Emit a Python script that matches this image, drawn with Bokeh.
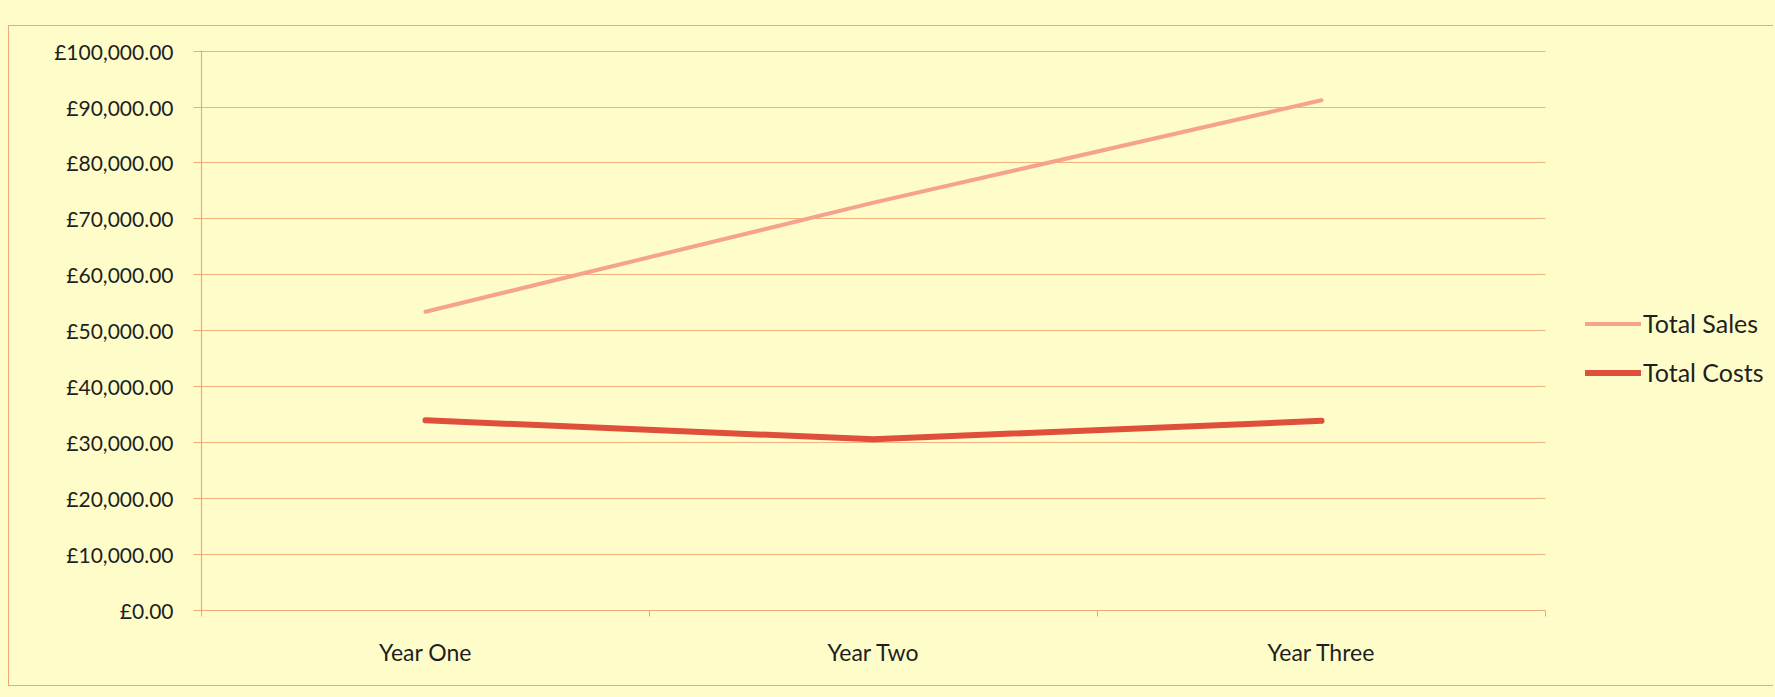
from bokeh.plotting import figure
from bokeh.layouts import column
from bokeh.models import FixedTicker, Legend, LegendItem, Range1d
from bokeh.embed import file_html
from bokeh.resources import INLINE

# ---- data ----
categories = ["Year One", "Year Two", "Year Three"]
total_sales = [53400, 72900, 91200]
total_costs = [34000, 30600, 33900]
y_ticks = [0, 10000, 20000, 30000, 40000, 50000, 60000, 70000, 80000, 90000, 100000]
y_tick_labels = ["£0.00", "£10,000.00", "£20,000.00", "£30,000.00", "£40,000.00",
                 "£50,000.00", "£60,000.00", "£70,000.00", "£80,000.00",
                 "£90,000.00", "£100,000.00"]
series_names = ["Total Sales", "Total Costs"]

# ---- style ----
BG = "#fefdc9"
GRID = "#f2b07c"
AXIS = "#f0a878"
BORDER = "#f0a878"
SALES = "#f5a28e"
COSTS = "#df4f39"
TEXT = "#1f1f1f"
FONT = "Lato"

n = len(categories)
x_pos = [i + 0.5 for i in range(n)]

FIG_W, FIG_H = 1765, 661
LEFT, TOP, BOTTOM = 192, 24, 77
PLOT_W = 1344                      # width of the category area in pixels
frame_w = FIG_W - LEFT
x_end = n * frame_w / PLOT_W       # frame extends past the plot area to hold the legend

p = figure(width=FIG_W, height=FIG_H, output_backend="svg", toolbar_location=None,
           x_range=Range1d(0, x_end), y_range=Range1d(0, 100100),
           min_border_left=LEFT, min_border_right=0, min_border_top=TOP,
           min_border_bottom=BOTTOM,
           background_fill_color=BG, border_fill_color=BG)
p.outline_line_color = None
p.margin = (25, 0, 0, 8)
border_css = "1.5px solid " + BORDER
p.styles = {"border-left": border_css, "border-top": border_css,
            "border-bottom": border_css}

r_sales = p.line(x_pos, total_sales, line_color=SALES, line_width=4, line_cap="round")
r_costs = p.line(x_pos, total_costs, line_color=COSTS, line_width=6, line_cap="round")

# x axis: labels at category centres, tick marks at category boundaries
p.xaxis.ticker = FixedTicker(ticks=x_pos, minor_ticks=list(range(n + 1)))
p.xaxis.bounds = (0, n)
p.xaxis.major_label_overrides = {x: c for x, c in zip(x_pos, categories)}
p.xaxis.major_tick_out = 0
p.xaxis.major_tick_in = 0
p.xaxis.minor_tick_out = 6
p.xaxis.minor_tick_in = 0
p.xaxis.minor_tick_line_color = AXIS
p.xaxis.axis_line_color = AXIS
p.xaxis.axis_line_width = 1.2
p.xaxis.major_label_standoff = 21
p.xaxis.major_label_text_font = FONT
p.xaxis.major_label_text_font_size = "23px"
p.xaxis.major_label_text_color = TEXT
p.xgrid.visible = False

# y axis
p.yaxis.ticker = FixedTicker(ticks=y_ticks, minor_ticks=[])
p.yaxis.major_label_overrides = dict(zip(y_ticks, y_tick_labels))
p.yaxis.major_tick_out = 8
p.yaxis.major_tick_in = 0
p.yaxis.major_tick_line_color = AXIS
p.yaxis.axis_line_color = AXIS
p.yaxis.axis_line_width = 1.2
p.yaxis.major_label_standoff = 20
p.yaxis.major_label_text_font = FONT
p.yaxis.major_label_text_font_size = "21px"
p.yaxis.major_label_text_color = TEXT
p.ygrid.ticker = FixedTicker(ticks=y_ticks, minor_ticks=[])
p.ygrid.cross_bounds = (0, n)
p.ygrid.grid_line_color = GRID
p.ygrid.grid_line_width = 1.2

legend = Legend(items=[LegendItem(label=series_names[0], renderers=[r_sales]),
                       LegendItem(label=series_names[1], renderers=[r_costs])],
                location=(PLOT_W + 40, 223), orientation="vertical",
                glyph_width=56, glyph_height=25, label_height=25, spacing=19,
                label_standoff=2, padding=0, margin=0,
                label_text_font=FONT, label_text_font_size="25px",
                label_text_color=TEXT,
                border_line_color=None, background_fill_alpha=0)
p.add_layout(legend)

layout = column(p, width=1775, height=697,
                styles={"background-color": BG, "overflow": "hidden"})

open("out.html", "w").write(file_html(layout, INLINE))
